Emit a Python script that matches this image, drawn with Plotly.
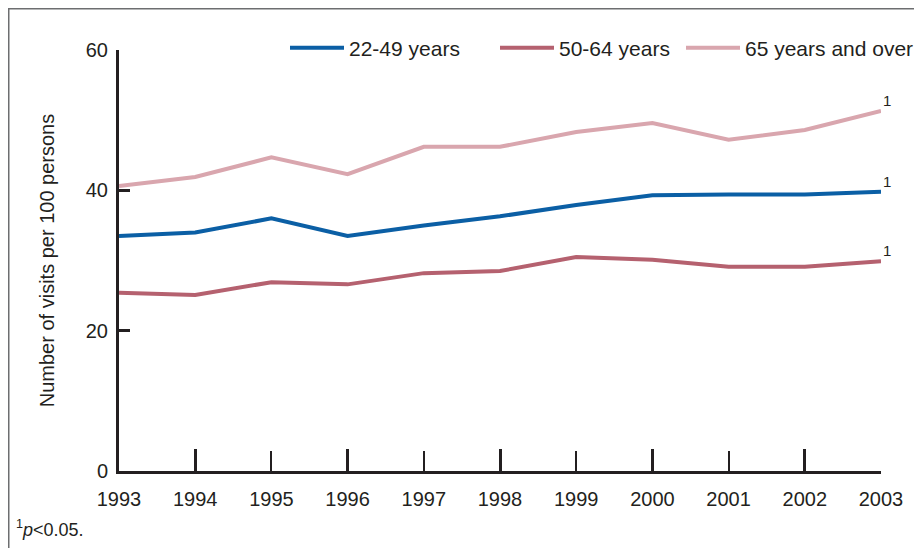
import plotly.graph_objects as go

years = [1993, 1994, 1995, 1996, 1997, 1998, 1999, 2000, 2001, 2002, 2003]
age_22_49 = [33.5, 34.0, 36.0, 33.5, 35.0, 36.3, 37.9, 39.3, 39.4, 39.4, 39.8]
age_50_64 = [25.4, 25.1, 26.9, 26.6, 28.2, 28.5, 30.5, 30.1, 29.1, 29.1, 29.9]
age_65_up = [40.6, 41.9, 44.7, 42.3, 46.2, 46.2, 48.3, 49.6, 47.2, 48.6, 51.3]
series_names = ["22-49 years", "50-64 years", "65 years and over"]
series_colors = ["#0B5FA5", "#B5616F", "#D9A6AE"]
y_ticks = [0, 20, 40, 60]
even_years = [1994, 1996, 1998, 2000, 2002]

FONT = "Liberation Sans, Arial, Helvetica, sans-serif"
INK = "#231F20"

# page has an 8px body margin; figure coordinates = screen - 8
W, H = 914, 540
L, R, T, B = 111, 41, 42, 77
PW, PH = W - L - R, H - T - B


def px(xs):
    return (xs - 8 - L) / PW


def py(ys):
    return (H - B - (ys - 8)) / PH


fig = go.Figure()
legend_ids = ["legend", "legend2", "legend3"]
legend_x = [285, 495, 681]
for name, vals, col, lid in zip(series_names, [age_22_49, age_50_64, age_65_up],
                                series_colors, legend_ids):
    fig.add_trace(go.Scatter(x=years, y=vals, name=name, mode="lines",
                             line=dict(color=col, width=4), cliponaxis=False,
                             hoverinfo="skip", legend=lid))
    fig.add_annotation(x=years[-1], y=vals[-1], text="1", showarrow=False,
                       xanchor="left", yanchor="bottom", xshift=0, yshift=0,
                       font=dict(family=FONT, size=15, color=INK))

# invisible trace to carry the longer even-year ticks
fig.add_trace(go.Scatter(x=[years[0], years[-1]], y=[0, 0], xaxis="x2", mode="lines",
                         line=dict(width=0), showlegend=False, hoverinfo="skip"))

legend_common = dict(orientation="h", xanchor="left", y=py(48), yanchor="middle",
                     font=dict(size=21, color=INK, family=FONT), itemwidth=54,
                     bgcolor="rgba(0,0,0,0)")

fig.update_layout(
    width=W, height=H,
    margin=dict(l=L, r=R, t=T, b=B, autoexpand=False),
    paper_bgcolor="white", plot_bgcolor="white",
    font=dict(family=FONT, size=20, color=INK),
    showlegend=True,
    legend=dict(x=px(legend_x[0]), **legend_common),
    legend2=dict(x=px(legend_x[1]), **legend_common),
    legend3=dict(x=px(legend_x[2]), **legend_common),
    xaxis=dict(range=[years[0], years[-1]], tickvals=years, ticktext=[str(y) for y in years],
               ticks="inside", ticklen=20, tickwidth=2, tickcolor=INK,
               showline=True, linewidth=3, linecolor=INK, showgrid=False, zeroline=False,
               ticklabelstandoff=8, tickfont=dict(size=20)),
    xaxis2=dict(range=[years[0], years[-1]], overlaying="x", tickvals=even_years,
                ticks="inside", ticklen=22, tickwidth=3, tickcolor=INK,
                showticklabels=False, showline=False, showgrid=False, zeroline=False,
                side="bottom", anchor="y"),
    yaxis=dict(range=[0, 60], tickvals=y_ticks, ticks="inside", ticklen=11, tickwidth=2.5,
               tickcolor=INK, showline=True, linewidth=3, linecolor=INK, showgrid=False,
               zeroline=False, ticklabelstandoff=4, tickfont=dict(size=20),
               title=dict(text="Number of visits per 100 persons", standoff=26,
                          font=dict(size=20))),
    shapes=[dict(type="rect", xref="paper", yref="paper",
                 x0=(0.75 - L) / PW, x1=1.2, y0=-0.3, y1=(H - B - 0.75) / PH,
                 line=dict(color="#6D6E70", width=1.5), layer="below")],
)

fig.add_annotation(xref="paper", yref="paper", x=px(14), y=py(528),
                   xanchor="left", yanchor="middle", showarrow=False,
                   text="<sup>1</sup><i>p</i>&lt;0.05.",
                   font=dict(family=FONT, size=18, color=INK))

fig.write_html("out.html")
